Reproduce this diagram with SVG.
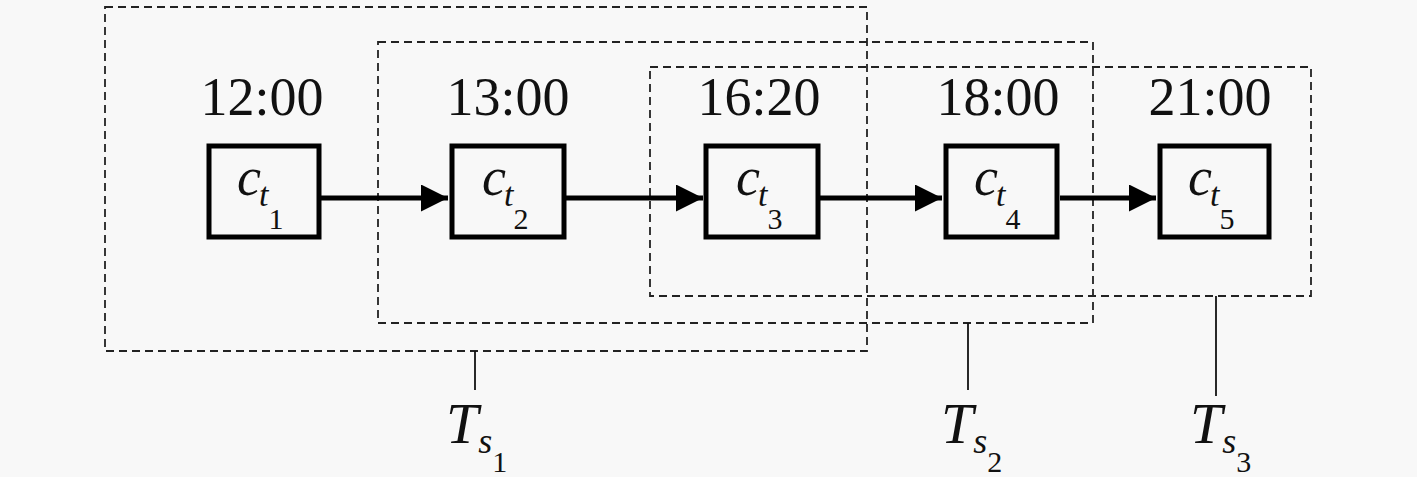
<svg xmlns="http://www.w3.org/2000/svg" width="1417" height="477" viewBox="0 0 1417 477">
<defs>
<style>
.bg{fill:#f8f8f8}
.win{fill:none;stroke:#222;stroke-width:1.8;stroke-dasharray:8,5}
.node{fill:#f8f8f8;stroke:#000;stroke-width:5}
.time{font-size:54px;fill:#111;text-anchor:middle}
.var{font-style:italic;fill:#111}
.num{font-style:normal;fill:#111}
.edge{stroke:#000;stroke-width:5;fill:none}
.lead{stroke:#111;stroke-width:1.8}
</style>
<marker id="ah" viewBox="0 0 10 10" refX="10" refY="5" markerWidth="5.4" markerHeight="5.4" markerUnits="strokeWidth" orient="auto">
<path d="M0,0 L10,5 L0,10 Z" fill="#000"/>
</marker>
</defs>
<rect class="bg" x="0" y="0" width="1417" height="477"/>
<g id="windows">
<rect class="win" x="105" y="7" width="762" height="344"/>
<rect class="win" x="378" y="42" width="715" height="281"/>
<rect class="win" x="650" y="67" width="661" height="229"/>
</g>
<g id="connectors">
<line class="edge" x1="321" y1="198" x2="448" y2="198" marker-end="url(#ah)"/>
<line class="edge" x1="566" y1="198" x2="703" y2="198" marker-end="url(#ah)"/>
<line class="edge" x1="820" y1="198" x2="942" y2="198" marker-end="url(#ah)"/>
<line class="edge" x1="1060" y1="198" x2="1156" y2="198" marker-end="url(#ah)"/>
<line class="lead" x1="475" y1="351" x2="475" y2="390"/>
<line class="lead" x1="968" y1="323" x2="968" y2="390"/>
<line class="lead" x1="1216" y1="296" x2="1216" y2="396"/>
</g>
<g font-family="DejaVu Serif, Liberation Serif, serif">
<g id="n1">
<text class="time" x="262" y="115" font-family="Liberation Serif, DejaVu Serif, serif">12:00</text>
<rect class="node" x="209" y="146" width="110" height="91"/>
<text class="var" x="237" y="195" font-size="54" font-family="Liberation Serif, DejaVu Serif, serif">c<tspan font-size="34" dy="11" dx="-2">t</tspan><tspan class="num" font-size="30" dy="23">1</tspan></text>
</g>
<g id="n2">
<text class="time" x="508" y="115" font-family="Liberation Serif, DejaVu Serif, serif">13:00</text>
<rect class="node" x="452" y="146" width="112" height="91"/>
<text class="var" x="482" y="195" font-size="54" font-family="Liberation Serif, DejaVu Serif, serif">c<tspan font-size="34" dy="11" dx="-2">t</tspan><tspan class="num" font-size="30" dy="23">2</tspan></text>
</g>
<g id="n3">
<text class="time" x="759" y="115" font-family="Liberation Serif, DejaVu Serif, serif">16:20</text>
<rect class="node" x="706" y="146" width="112" height="91"/>
<text class="var" x="736" y="195" font-size="54" font-family="Liberation Serif, DejaVu Serif, serif">c<tspan font-size="34" dy="11" dx="-2">t</tspan><tspan class="num" font-size="30" dy="23">3</tspan></text>
</g>
<g id="n4">
<text class="time" x="998" y="115" font-family="Liberation Serif, DejaVu Serif, serif">18:00</text>
<rect class="node" x="946" y="146" width="111" height="91"/>
<text class="var" x="974" y="195" font-size="54" font-family="Liberation Serif, DejaVu Serif, serif">c<tspan font-size="34" dy="11" dx="-2">t</tspan><tspan class="num" font-size="30" dy="23">4</tspan></text>
</g>
<g id="n5">
<text class="time" x="1210" y="115" font-family="Liberation Serif, DejaVu Serif, serif">21:00</text>
<rect class="node" x="1160" y="146" width="109" height="91"/>
<text class="var" x="1188" y="195" font-size="54" font-family="Liberation Serif, DejaVu Serif, serif">c<tspan font-size="34" dy="11" dx="-2">t</tspan><tspan class="num" font-size="30" dy="23">5</tspan></text>
</g>
<g id="ts1">
<text class="var" x="446" y="443" font-size="58" font-family="Liberation Serif, DejaVu Serif, serif">T<tspan font-size="36" dy="10">s</tspan><tspan class="num" font-size="30" dy="19">1</tspan></text>
</g>
<g id="ts2">
<text class="var" x="941" y="443" font-size="58" font-family="Liberation Serif, DejaVu Serif, serif">T<tspan font-size="36" dy="10">s</tspan><tspan class="num" font-size="30" dy="19">2</tspan></text>
</g>
<g id="ts3">
<text class="var" x="1190" y="443" font-size="58" font-family="Liberation Serif, DejaVu Serif, serif">T<tspan font-size="36" dy="10">s</tspan><tspan class="num" font-size="30" dy="19">3</tspan></text>
</g>
</g>
</svg>
